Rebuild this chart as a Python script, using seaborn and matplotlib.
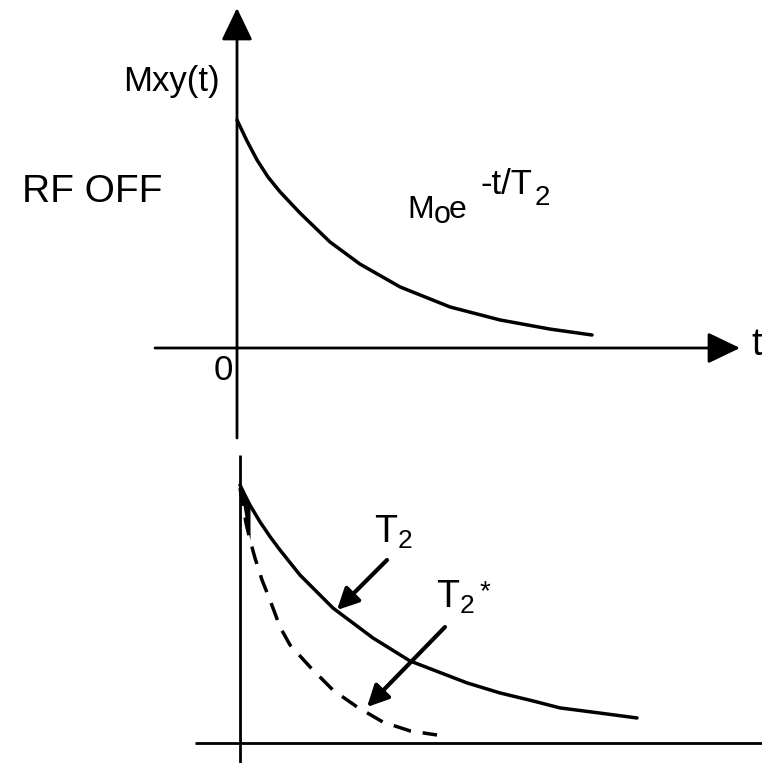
import numpy as np
import matplotlib
matplotlib.use("Agg")
import matplotlib.pyplot as plt
import seaborn as sns

# ---- data (t in arbitrary units, M normalised to M0) ----
top_t = [0, 0.1, 0.2, 0.31, 0.43, 0.63, 0.93, 1.23, 1.63, 2.13, 2.63, 3.13, 3.55]
top_m = [1.0, 0.908, 0.825, 0.750, 0.685, 0.592, 0.465, 0.368, 0.268, 0.180,
         0.123, 0.083, 0.057]

t2_t = [0, 0.05, 0.1, 0.2, 0.3, 0.4, 0.6, 0.93, 1.33, 1.7, 2.27, 2.6, 2.93, 3.2,
        3.6, 3.97]
t2_m = [1.0, 0.960, 0.922, 0.857, 0.800, 0.748, 0.651, 0.523, 0.407, 0.318,
        0.233, 0.194, 0.163, 0.136, 0.116, 0.097]

t2s_t = [0, 0.03, 0.06, 0.1, 0.15, 0.22, 0.3, 0.4, 0.5, 0.7, 0.93, 1.17, 1.43,
         1.7, 1.97]
t2s_m = [0.988, 0.922, 0.853, 0.787, 0.717, 0.632, 0.554, 0.450, 0.380, 0.295,
         0.205, 0.140, 0.081, 0.047, 0.031]

label_rf = "RF OFF"
label_y = "Mxy(t)"
label_t2 = r"$T_2$"

sns.set_style("white")
plt.rcParams["font.family"] = ["Liberation Sans", "DejaVu Sans"]
plt.rcParams["mathtext.fontset"] = "custom"
plt.rcParams["mathtext.rm"] = "Liberation Sans"
plt.rcParams["mathtext.it"] = "Liberation Sans"
plt.rcParams["mathtext.default"] = "regular"
plt.rcParams["text.color"] = "black"

W, H = 762, 763
fig = plt.figure(figsize=(W / 100, H / 100), dpi=100)
fig.patch.set_facecolor("white")

def fp(x, y):
    """pixel (from top-left) -> figure fraction"""
    return (x / W, 1 - y / H)

# top panel axes: origin at pixel (237, 348); 100 px per t unit, 228 px per M0
ax1 = fig.add_axes([0, 0, 1, 1])
ax1.set_xlim((0 - 237) / 100, (W - 237) / 100)
ax1.set_ylim((348 - H) / 228, 348 / 228)
ax1.axis("off")
ax1.patch.set_alpha(0)

# bottom panel axes: origin at pixel (240, 743); 100 px per t, 258 px per M0
ax2 = fig.add_axes([0, 0, 1, 1])
ax2.set_xlim((0 - 240) / 100, (W - 240) / 100)
ax2.set_ylim((743 - H) / 258, 743 / 258)
ax2.axis("off")
ax2.patch.set_alpha(0)

lw_axis = 2.0
lw_curve = 2.5
big_arrow = dict(arrowstyle="-|>,head_length=1.0,head_width=0.48",
                 mutation_scale=20, color="black", lw=lw_axis,
                 shrinkA=0, shrinkB=0)

# top axes lines
ax1.annotate("", xy=(0, (348 - 8) / 228), xytext=(0, (348 - 438) / 228),
             arrowprops=big_arrow)
ax1.annotate("", xy=((740 - 237) / 100, 0), xytext=((155 - 237) / 100, 0),
             arrowprops=big_arrow)

# bottom axes lines
ax2.plot([0, 0], [(743 - 455) / 258, (743 - H) / 258], color="black", lw=lw_axis,
         solid_capstyle="butt")
ax2.plot([(195 - 240) / 100, (W - 240) / 100], [0, 0], color="black", lw=lw_axis,
         solid_capstyle="butt")

# curves
sns.lineplot(x=top_t, y=top_m, ax=ax1, color="black", lw=lw_curve,
             estimator=None, sort=False)
sns.lineplot(x=t2_t, y=t2_m, ax=ax2, color="black", lw=lw_curve,
             estimator=None, sort=False)
sns.lineplot(x=t2s_t, y=t2s_m, ax=ax2, color="black", lw=lw_curve,
             estimator=None, sort=False)
ax2.lines[-1].set_dashes([5.2, 3.4])

# small filled wedge at the start of the bottom curves
ft = np.array(t2s_t[:4])
ax2.fill_between(ft, np.array(t2s_m[:4]), np.interp(ft, t2_t, t2_m),
                 color="black", lw=0)

# texts
fig.text(*fp(22, 192), label_rf, fontsize=28, ha="left", va="center")
fig.text(*fp(220, 81), label_y, fontsize=25, ha="right", va="center")
fig.text(*fp(223, 371), "0", fontsize=25, ha="center", va="center")
fig.text(*fp(751, 355), "t", fontsize=27, ha="left", va="baseline")

# formula M_o e^{-t/T2} built from pieces
fig.text(*fp(407, 218), "M", fontsize=23, ha="left", va="baseline")
fig.text(*fp(434, 223), "o", fontsize=22, ha="left", va="baseline")
fig.text(*fp(449, 218), "e", fontsize=23, ha="left", va="baseline")
fig.text(*fp(480, 194), "-t/T", fontsize=25, ha="left", va="baseline")
fig.text(*fp(535, 205), "2", fontsize=20, ha="left", va="baseline")

fig.text(*fp(374, 543), label_t2, fontsize=27, ha="left", va="baseline")
fig.text(*fp(436, 608), label_t2, fontsize=27, ha="left", va="baseline")
fig.text(*fp(480, 599), "*", fontsize=20, ha="left", va="baseline")

# label arrows
small_arrow = dict(arrowstyle="-|>,head_length=0.8,head_width=0.4",
                   mutation_scale=16, color="black", lw=3.0,
                   shrinkA=0, shrinkB=0)
ax2.annotate("", xy=fp(337, 610), xytext=fp(387, 560),
             xycoords="figure fraction", textcoords="figure fraction",
             arrowprops=small_arrow)
ax2.annotate("", xy=fp(367, 707), xytext=fp(445, 627),
             xycoords="figure fraction", textcoords="figure fraction",
             arrowprops=small_arrow)

fig.savefig("out.png", dpi=100, facecolor="white")
